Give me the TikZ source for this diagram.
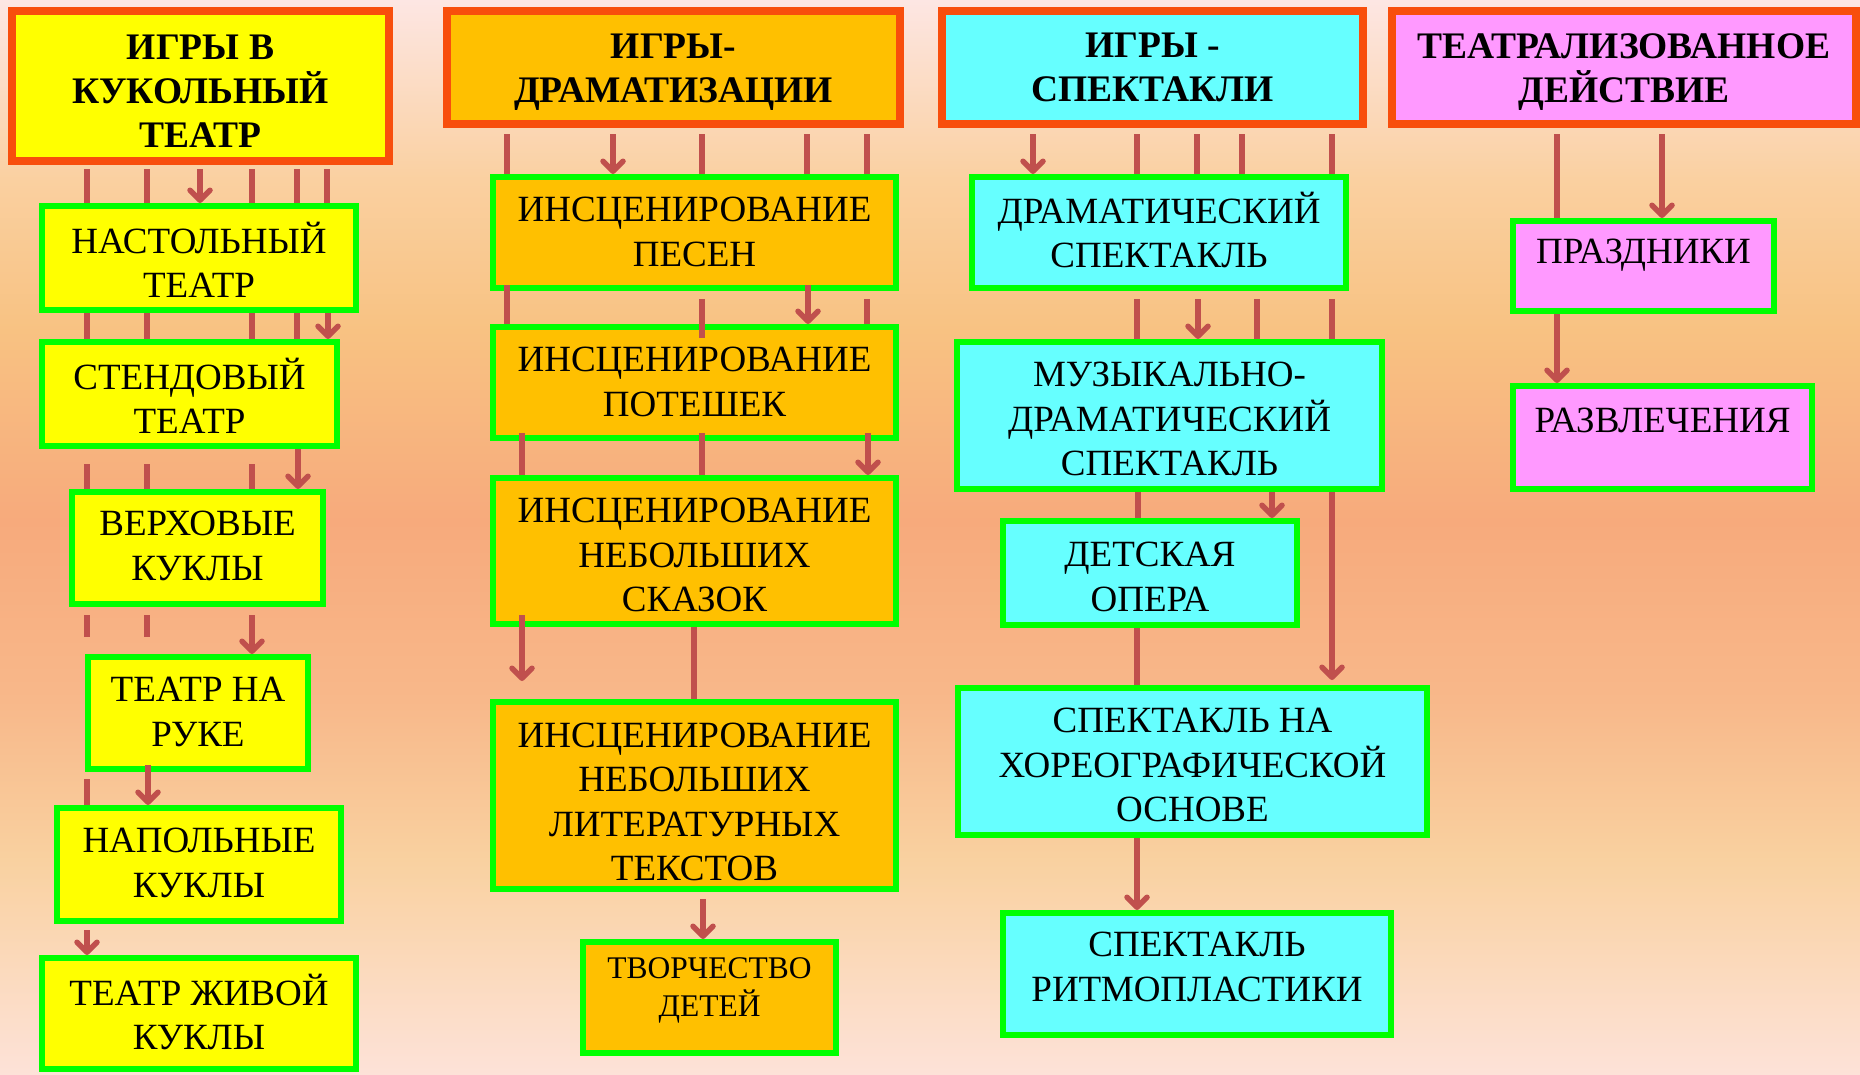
\documentclass[tikz,border=0pt]{standalone}
\usepackage{fontspec}
\setmainfont{Liberation Serif}
\usetikzlibrary{arrows.meta,calc}
\definecolor{bgA}{HTML}{FDE6E3}
\definecolor{bgB}{HTML}{FAD0A0}
\definecolor{bgC}{HTML}{F8C282}
\definecolor{bgD}{HTML}{F7AA7C}
\definecolor{bgE}{HTML}{F8B88A}
\definecolor{bgF}{HTML}{F9D1A0}
\definecolor{bgG}{HTML}{FDE2D8}
\definecolor{hdrB}{HTML}{F84E0C}
\definecolor{grn}{HTML}{00FF00}
\definecolor{yel}{HTML}{FFFF00}
\definecolor{org}{HTML}{FFC000}
\definecolor{cyn}{HTML}{66FFFF}
\definecolor{pnk}{HTML}{FF99FF}
\definecolor{arr}{HTML}{C0504D}
\newcommand\boxH[6]{\node[hdr,fill=#2,minimum width={#5-#3-8},minimum height={#6-#4-8}] (#1) at ({(#3+#5)/2},{(#4+#6)/2}) {};}
\newcommand\boxG[6]{\node[gbox,fill=#2,minimum width={#5-#3-6},minimum height={#6-#4-6}] (#1) at ({(#3+#5)/2},{(#4+#6)/2}) {};}
\newcommand\cn[4][]{\draw[ln,#1] (#2.south -| #4,0) -- (#3.north -| #4,0);}
\begin{document}
\begin{tikzpicture}[x=1pt,y=-1pt,
 hdr/.style={draw=hdrB,line width=8pt,inner sep=0pt,rectangle},
 gbox/.style={draw=grn,line width=6pt,inner sep=0pt,rectangle},
 txt/.style={align=center,inner sep=0pt,font=\fontsize{37}{44.5}\selectfont},
 stxt/.style={align=center,inner sep=0pt,font=\fontsize{31.5}{38}\selectfont},
 htxt/.style={align=center,inner sep=0pt,font=\fontsize{37.5}{44}\selectfont\bfseries},
 ln/.style={draw=arr,line width=5.5pt},
 arw/.style={-{Straight Barb[length=10pt,width=20pt,round]}}]
\useasboundingbox (0,0) rectangle (1860,1074);
% background
\shade[top color=bgA,bottom color=bgB] (0,0) rectangle (1860,181);
\shade[top color=bgB,bottom color=bgC] (0,180) rectangle (1860,331);
\shade[top color=bgC,bottom color=bgD] (0,330) rectangle (1860,521);
\shade[top color=bgD,bottom color=bgE] (0,520) rectangle (1860,701);
\shade[top color=bgE,bottom color=bgF] (0,700) rectangle (1860,861);
\shade[top color=bgF,bottom color=bgG] (0,860) rectangle (1860,1074);
% column 1
\boxH{h1}{yel}{8}{7}{393}{165}
\boxG{n1}{yel}{39}{203}{359}{313}
\boxG{n2}{yel}{39}{339}{340}{449}
\boxG{n3}{yel}{69}{489}{326}{607}
\boxG{n4}{yel}{85}{654}{311}{772}
\boxG{n5}{yel}{54}{805}{344}{924}
\boxG{n6}{yel}{39}{955}{359}{1072}
% column 2
\boxH{h2}{org}{443}{7}{904}{128}
\boxG{d1}{org}{490}{174}{899}{291}
\boxG{d2}{org}{490}{324}{899}{441}
\boxG{d3}{org}{490}{475}{899}{627}
\boxG{d4}{org}{490}{699}{899}{892}
\boxG{d5}{org}{580}{939}{839}{1056}
% column 3
\boxH{h3}{cyn}{938}{7}{1367}{128}
\boxG{s1}{cyn}{969}{174}{1349}{291}
\boxG{s2}{cyn}{954}{339}{1385}{492}
\boxG{s3}{cyn}{1000}{518}{1300}{628}
\boxG{s4}{cyn}{955}{685}{1430}{838}
\boxG{s5}{cyn}{1000}{910}{1394}{1038}
% column 4
\boxH{h4}{pnk}{1388}{7}{1860}{128}
\boxG{t1}{pnk}{1510}{218}{1777}{314}
\boxG{t2}{pnk}{1510}{383}{1815}{492}
% texts
\node[htxt] (h1t) at (h1 |- 0,91) {ИГРЫ В\\КУКОЛЬНЫЙ\\ТЕАТР};
\node[htxt] (h2t) at (h2 |- 0,72) {ИГРЫ-\\ДРАМАТИЗАЦИИ};
\node[htxt] (h3t) at (h3 |- 0,67.5) {ИГРЫ -\\СПЕКТАКЛИ};
\node[htxt] (h4t) at (h4 |- 0,72) {ТЕАТРАЛИЗОВАННОЕ\\ДЕЙСТВИЕ};
\node[txt] (n1t) at (n1 |- 0,260) {НАСТОЛЬНЫЙ\\ТЕАТР};
\node[txt] (n2t) at (n2 |- 0,396) {СТЕНДОВЫЙ\\ТЕАТР};
\node[txt] (n3t) at (n3 |- 0,546) {ВЕРХОВЫЕ\\КУКЛЫ};
\node[txt] (n4t) at (n4 |- 0,712) {ТЕАТР НА\\РУКЕ};
\node[txt] (n5t) at (n5 |- 0,863) {НАПОЛЬНЫЕ\\КУКЛЫ};
\node[txt] (n6t) at (n6 |- 0,1012) {ТЕАТР ЖИВОЙ\\КУКЛЫ};
\node[txt] (d1t) at (d1 |- 0,232) {ИНСЦЕНИРОВАНИЕ\\ПЕСЕН};
\node[txt] (d2t) at (d2 |- 0,382) {ИНСЦЕНИРОВАНИЕ\\ПОТЕШЕК};
\node[txt] (d3t) at (d3 |- 0,555) {ИНСЦЕНИРОВАНИЕ\\НЕБОЛЬШИХ\\СКАЗОК};
\node[txt] (d4t) at (d4 |- 0,802) {ИНСЦЕНИРОВАНИЕ\\НЕБОЛЬШИХ\\ЛИТЕРАТУРНЫХ\\ТЕКСТОВ};
\node[stxt] (d5t) at (d5 |- 0,990) {ТВОРЧЕСТВО\\ДЕТЕЙ};
\node[txt] (s1t) at (s1 |- 0,230) {ДРАМАТИЧЕСКИЙ\\СПЕКТАКЛЬ};
\node[txt] (s2t) at (s2 |- 0,419) {МУЗЫКАЛЬНО-\\ДРАМАТИЧЕСКИЙ\\СПЕКТАКЛЬ};
\node[txt] (s3t) at (s3 |- 0,577) {ДЕТСКАЯ\\ОПЕРА};
\node[txt] (s4t) at (s4 |- 0,765) {СПЕКТАКЛЬ НА\\ХОРЕОГРАФИЧЕСКОЙ\\ОСНОВЕ};
\node[txt] (s5t) at (s5 |- 0,967) {СПЕКТАКЛЬ\\РИТМОПЛАСТИКИ};
\node[txt] (t1t) at (t1 |- 0,255) {ПРАЗДНИКИ};
\node[txt] (t2t) at (t2 |- 0,420) {РАЗВЛЕЧЕНИЯ};
% connectors column 1
\cn[shorten <=4pt]{h1}{n1}{87}
\cn[shorten <=4pt]{h1}{n1}{147}
\cn[shorten <=4pt,arw]{h1}{n1}{200}
\cn[shorten <=4pt]{h1}{n1}{252}
\cn[shorten <=4pt]{h1}{n1}{297}
\cn[shorten <=4pt]{h1}{n1}{327}
\cn{n1}{n2}{87}
\cn{n1}{n2}{147}
\cn{n1}{n2}{252}
\cn{n1}{n2}{297}
\cn[arw]{n1}{n2}{328}
\cn[shorten <=15pt]{n2}{n3}{87}
\cn[shorten <=15pt]{n2}{n3}{147}
\cn[shorten <=15pt]{n2}{n3}{252}
\cn[arw]{n2}{n3}{298}
\cn[shorten <=8pt,shorten >=17pt]{n3}{n4}{87}
\cn[shorten <=8pt,shorten >=17pt]{n3}{n4}{147}
\cn[shorten <=8pt,arw]{n3}{n4}{252}
\cn[shorten <=7pt]{n4}{n5}{87}
\cn[shorten <=-7pt,arw]{n4}{n5}{148}
\cn[shorten <=6pt,arw]{n5}{n6}{87}
% connectors column 2
\cn[shorten <=6pt]{h2}{d1}{507}
\cn[shorten <=6pt,arw]{h2}{d1}{613}
\cn[shorten <=6pt]{h2}{d1}{702}
\cn[shorten <=6pt]{h2}{d1}{807}
\cn[shorten <=6pt]{h2}{d1}{867}
\cn[shorten <=-6pt]{d1}{d2}{507}
\cn[shorten <=8pt,shorten >=-14pt]{d1}{d2}{702}
\cn[shorten <=-6pt,arw]{d1}{d2}{808}
\cn[shorten <=8pt]{d1}{d2}{867}
\cn[shorten <=-8pt]{d2}{d3}{522}
\cn[shorten <=-8pt]{d2}{d3}{702}
\cn[shorten <=-8pt,arw]{d2}{d3}{868}
\cn[shorten <=-12pt,shorten >=18pt,arw]{d3}{d4}{522}
\cn{d3}{d4}{694}
\cn[shorten <=7pt,arw]{d4}{d5}{703}
% connectors column 3
\cn[shorten <=6pt,arw]{h3}{s1}{1033}
\cn[shorten <=6pt]{h3}{s1}{1137}
\cn[shorten <=6pt]{h3}{s1}{1197}
\cn[shorten <=6pt]{h3}{s1}{1242}
\cn[shorten <=6pt]{h3}{s1}{1332}
\cn[shorten <=8pt]{s1}{s2}{1137}
\cn[shorten <=8pt,arw]{s1}{s2}{1198}
\cn[shorten <=8pt]{s1}{s2}{1257}
\cn[shorten <=8pt]{s1}{s2}{1332}
\cn{s2}{s3}{1138}
\cn[arw]{s2}{s3}{1272}
\cn[shorten >=5pt,arw]{s2}{s4}{1332}
\cn{s3}{s4}{1137}
\cn[arw]{s4}{s5}{1137}
% connectors column 4
\cn[shorten <=6pt]{h4}{t1}{1557}
\cn[shorten <=6pt,arw]{h4}{t1}{1662}
\cn[arw]{t1}{t2}{1557}
\end{tikzpicture}
\end{document}
